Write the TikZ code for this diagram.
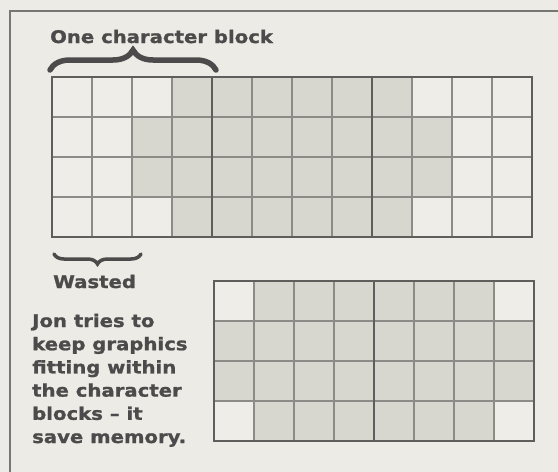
\documentclass[tikz,border=0pt]{standalone}
\usepackage{fontspec}
\newfontfamily\magfont{DejaVu Sans}[FakeStretch=1.13,FakeBold=1.2]
\usetikzlibrary{decorations.pathreplacing,positioning}
\definecolor{paper}{HTML}{ECEBE5}
\definecolor{celllight}{HTML}{EEEDE8}
\definecolor{cellgray}{HTML}{D7D6CF}
\definecolor{ink}{HTML}{4B4B4B}
\definecolor{gridgray}{HTML}{8C8B88}
\definecolor{edgegray}{HTML}{5E5E5C}

\begin{document}
\begin{tikzpicture}[x=1pt,y=-1pt,
  caption/.style={font=\magfont\bfseries\fontsize{17.4}{23.2}\selectfont, text=ink, inner sep=0pt},
  cellline/.style={line width=1.6pt, draw=gridgray},
  blockedge/.style={line width=2.8pt, draw=edgegray},
  bracket/.style={decorate, draw=ink, line cap=round}
]
  % paper and frame
  \fill[paper] (0,0) rectangle (558,472);
  \useasboundingbox (0,0) rectangle (558,472);
  \draw[line width=2.5pt, draw=edgegray!85] (558,11) -- (10,11) -- (10,472);

  % Top row: three character blocks, graphic drawn across them
  \fill[celllight] (52,77) rectangle (532,237);
  \foreach \r/\a/\b in {0/3/8,1/2/9,2/2/9,3/3/8}
    \fill[cellgray] ({52+\a*40},{77+\r*40}) rectangle ({52+(\b+1)*40},{77+(\r+1)*40});
  \foreach \i in {1,...,11}
    \draw[cellline] ({52+\i*40},77) -- ({52+\i*40},237);
  \foreach \j in {1,2,3}
    \draw[cellline] (52,{77+\j*40}) -- (532,{77+\j*40});
  \draw[blockedge] (52,77) rectangle (532,237);
  \foreach \i in {4,8}
    \draw[blockedge] ({52+\i*40},77) -- ({52+\i*40},237);

  % Bottom row: two character blocks, graphic fitted to them
  \fill[celllight] (214,281) rectangle (534,441);
  \foreach \r/\a/\b in {0/1/6,1/0/7,2/0/7,3/1/6}
    \fill[cellgray] ({214+\a*40},{281+\r*40}) rectangle ({214+(\b+1)*40},{281+(\r+1)*40});
  \foreach \i in {1,...,7}
    \draw[cellline] ({214+\i*40},281) -- ({214+\i*40},441);
  \foreach \j in {1,2,3}
    \draw[cellline] (214,{281+\j*40}) -- (534,{281+\j*40});
  \draw[blockedge] (214,281) rectangle (534,441);
  \draw[blockedge] (374,281) -- (374,441);

  % Labels
  \node[caption, anchor=base west] (title) at (50,43) {One character block};
  \draw[bracket, line width=5.5pt, decoration={brace, amplitude=20pt}] (50,70) -- (216,70);

  \draw[bracket, line width=3.5pt, decoration={brace, amplitude=10pt}] (141,254) -- (54,254);
  \node[caption, anchor=base west] (wasted) at (53,288) {Wasted};

  % multi-line node: base is the last line
  \node[caption, anchor=base west, align=left] (note) at (32,443)
    {Jon tries to\\keep graphics\\fitting within\\the character\\blocks – it\\save memory.};
\end{tikzpicture}
\end{document}
